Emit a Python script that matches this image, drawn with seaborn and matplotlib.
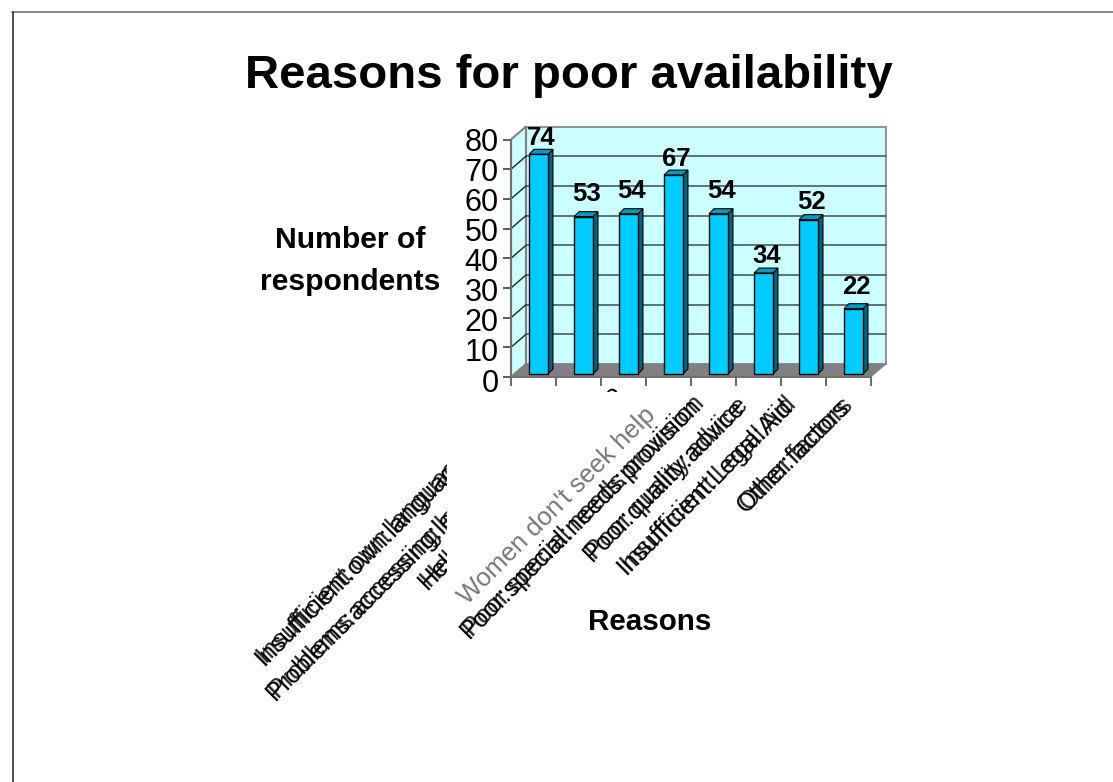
import matplotlib
matplotlib.use("Agg")
import matplotlib.pyplot as plt
import seaborn as sns
from matplotlib.lines import Line2D
from matplotlib.patches import Polygon, Rectangle
from matplotlib.transforms import Affine2D, Bbox

reasons = [
    "Insufficient own language advice",
    "Problems accessing legal services",
    "Help not very affordable",
    "Women don't seek help",
    "Poor special needs provision",
    "Poor quality advice",
    "Insufficient Legal Aid",
    "Other factors",
]
respondents = [74, 53, 54, 67, 54, 34, 52, 22]
y_ticks = [0, 10, 20, 30, 40, 50, 60, 70, 80]

W, H = 1113, 782
WALL = "#CCFFFF"
FRONT = "#00CCFF"
TOP = "#0099BF"
SIDE = "#006680"
FLOOR = "#808080"

# Pixel adjustments of the rotated category labels and the value labels
label_nudges = [(-17, 2), (-35, -18), (-13, 8), (-25, -13),
                (-21.5, -1.5), (-22.5, -3.5), (-20, -3), (-8, -4)]
value_lifts = [19, 26, 26, 19, 26, 20, 21, 25]

sns.set_theme(style="white")
plt.rcParams["font.family"] = ["Liberation Sans", "DejaVu Sans"]

fig = plt.figure(figsize=(W / 100, H / 100), dpi=100, facecolor="white")
ax = fig.add_axes([511 / W, (H - 377) / H, 360 / W, 237.5 / H])
ax.patch.set_visible(False)

sns.barplot(x=reasons, y=respondents, color=FRONT, saturation=1, width=0.42,
            edgecolor="black", linewidth=1, ax=ax, zorder=5)
ax.set_xlim(-0.5, 7.5)
ax.set_ylim(0, 80)


def shifted(dx, dy):
    """Data transform moved by a pixel offset, used for the depth planes."""
    return ax.transData + Affine2D().translate(dx, dy)


def depth_poly(points, dx_front, dy_front, dx_back, dy_back, **kw):
    """Quad between a front edge and the same edge pushed back in depth."""
    front = ax.transData.transform(points)
    verts = [front[0] + (dx_front, dy_front), front[1] + (dx_front, dy_front),
             front[1] + (dx_back, dy_back), front[0] + (dx_back, dy_back)]
    ax.add_patch(Polygon(verts, closed=True, transform=None, clip_on=False, **kw))


x0, x1 = ax.get_xlim()
WALL_DX, WALL_DY = 15, 13

# Back wall, side wall and floor of the pseudo-3D box
ax.add_patch(Rectangle((x0, 0), x1 - x0, 80, transform=shifted(WALL_DX, WALL_DY),
                       facecolor=WALL, edgecolor="#8a9a9a", linewidth=1.5,
                       clip_on=False, zorder=1))
depth_poly([(x0, 0), (x0, 80)], 0, 0, WALL_DX, WALL_DY, facecolor=WALL,
           edgecolor="#808080", linewidth=1.5, zorder=1)
depth_poly([(x0, 0), (x1, 0)], 0, 0, WALL_DX, WALL_DY, facecolor=FLOOR,
           edgecolor=FLOOR, linewidth=0.5, zorder=2)

for tick in y_ticks[1:-1]:
    ax.plot([x0, x1], [tick, tick], transform=shifted(WALL_DX, WALL_DY),
            color="#4f6a6a", lw=1.3, clip_on=False, zorder=2)
    a = ax.transData.transform((x0, tick))
    ax.plot([a[0], a[0] + WALL_DX], [a[1], a[1] + WALL_DY], transform=None,
            color="#222222", lw=1, clip_on=False, zorder=2)

# Bars: front faces come from seaborn, side and top faces follow their geometry
BAR_DX, BAR_DY = 5, 3
BAR_DEPTH = 5
front_shift = shifted(BAR_DX, BAR_DY)
for bar, value, lift in zip(ax.containers[0], respondents, value_lifts):
    bar.set_transform(front_shift)
    bar.set_clip_on(False)
    left, right = bar.get_x(), bar.get_x() + bar.get_width()
    depth_poly([(right, 0), (right, value)], BAR_DX, BAR_DY,
               BAR_DX + BAR_DEPTH, BAR_DY + BAR_DEPTH,
               facecolor=SIDE, edgecolor="black", linewidth=0.8, zorder=4)
    depth_poly([(left, value), (right, value)], BAR_DX, BAR_DY,
               BAR_DX + BAR_DEPTH, BAR_DY + BAR_DEPTH,
               facecolor=TOP, edgecolor="black", linewidth=0.8, zorder=4)
    ax.annotate(str(value), xy=((left + right) / 2, value), xycoords="data",
                xytext=(8 * 0.72, lift * 0.72), textcoords="offset points",
                ha="center", va="center", fontsize=18.5, fontweight="bold",
                color="black", zorder=8, annotation_clip=False)

# Axes, ticks sit on the category boundaries
for name in ("top", "right"):
    ax.spines[name].set_visible(False)
for name in ("left", "bottom"):
    ax.spines[name].set_color("#707070")
    ax.spines[name].set_linewidth(1.5)
    ax.spines[name].set_zorder(3)

ax.set_yticks(y_ticks)
ax.tick_params(axis="y", length=6, width=1.2, color="#404040", labelsize=22,
               labelcolor="black", pad=3, left=True)
for tick_label, tick in zip(ax.get_yticklabels(), y_ticks):
    drop = 3 * (1 - tick / 80)
    tick_label.set_transform(tick_label.get_transform() + Affine2D().translate(0, -drop))
ax.set_xticks([i - 0.5 for i in range(9)], minor=True)
ax.tick_params(axis="x", which="minor", length=6.5, width=1.2, color="#505050",
               bottom=True)
ax.tick_params(axis="x", which="major", length=0, pad=9, labelsize=18.5)

# Rotated category labels; the first three are cut off at a vertical edge
labels = ax.get_xticklabels()
left_part = Bbox.from_extents(0, 0, 447, H)
top_part = Bbox.from_extents(447, H - 392, W, H)

for i, (label, text, nudge) in enumerate(zip(labels, reasons, label_nudges)):
    label.set_rotation(45)
    label.set_rotation_mode("anchor")
    label.set_ha("right")
    label.set_va("top")
    base = label.get_transform() + Affine2D().translate(*nudge)
    label.set_transform(base)
    if i == 3:
        label.set_color("#777777")
        continue
    if i < 3:
        label.set_clip_box(left_part)
        label.set_clip_on(True)
    # Second, slightly displaced pass gives the rough doubled lettering
    ghost = ax.text(i, 0, text.replace(" ", ":"), rotation=45,
                    rotation_mode="anchor", ha="right", va="top", fontsize=18.5,
                    color="black", transform=base + Affine2D().translate(-3, -2))
    if i < 3:
        ghost.set_clip_box(left_part)
        ghost.set_clip_on(True)
    else:
        ghost.set_clip_on(False)

tail = ax.text(2, 0, reasons[2], rotation=45, rotation_mode="anchor", ha="right",
               va="top", fontsize=18.5, color="black", transform=labels[2].get_transform())
tail.set_clip_box(top_part)
tail.set_clip_on(True)

ax.set_xlabel("Reasons", fontsize=21.3, fontweight="bold", color="black")
ax.xaxis.set_label_coords((650 - 511) / 360, -(622 - 377) / 237.5, transform=ax.transAxes)
ax.xaxis.label.set_va("center")
ax.set_ylabel("Number of\nrespondents", fontsize=21.7, fontweight="bold", color="black",
              rotation=0, ha="center", va="center", linespacing=1.6)
ax.yaxis.set_label_coords((350 - 511) / 360, (377 - 261) / 237.5, transform=ax.transAxes)

fig.text(569 / W, 1 - 76 / H, "Reasons for poor availability", ha="center", va="center",
         fontsize=34.1, fontweight="bold", color="black")

# Slide frame: grey along the top, dark down the left
fig.add_artist(Line2D([12 / W, 1], [1 - 11.5 / H] * 2, color="#808080", lw=1.3))
fig.add_artist(Line2D([12.5 / W] * 2, [0, 1 - 11.5 / H], color="#222222", lw=1.1))

fig.savefig("out.png", dpi=100, facecolor="white")
